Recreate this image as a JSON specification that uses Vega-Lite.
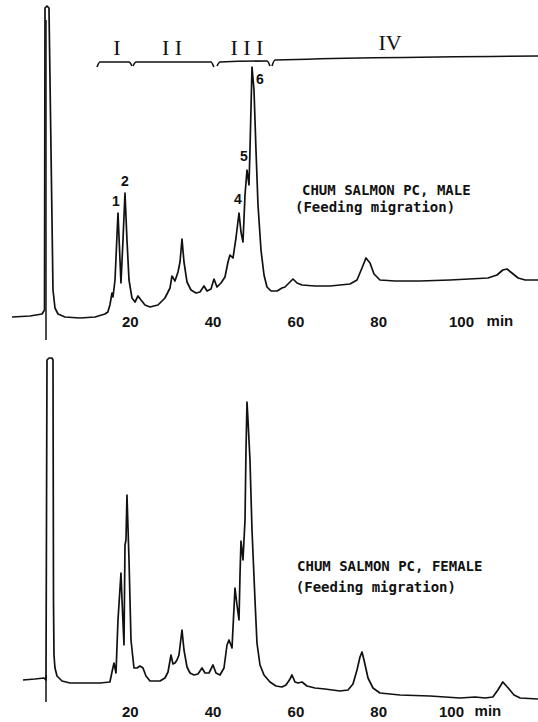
{
  "$schema": "https://vega.github.io/schema/vega-lite/v6.json",
  "background": "white",
  "padding": 0,
  "spacing": 65,
  "bounds": "flush",
  "config": {"view": {"stroke": null}},
  "datasets": {
    "top": [
      {"t": -8.45, "r": 3}, {"t": -4.1, "r": 4}, {"t": -1.2, "r": 6}, {"t": -0.6, "r": 10},
      {"t": -0.48, "r": 312}, {"t": 0, "r": 314}, {"t": 0.48, "r": 312}, {"t": 0.97, "r": 170},
      {"t": 1.45, "r": 30}, {"t": 1.93, "r": 12}, {"t": 2.66, "r": 6}, {"t": 4.35, "r": 3},
      {"t": 7.97, "r": 2}, {"t": 11.6, "r": 3}, {"t": 14.0, "r": 6}, {"t": 14.7, "r": 8},
      {"t": 15.2, "r": 15}, {"t": 15.7, "r": 27}, {"t": 15.94, "r": 23}, {"t": 16.43, "r": 40},
      {"t": 17.15, "r": 107}, {"t": 17.63, "r": 60}, {"t": 17.87, "r": 37}, {"t": 18.36, "r": 80},
      {"t": 18.84, "r": 127}, {"t": 19.32, "r": 80}, {"t": 19.81, "r": 40}, {"t": 20.53, "r": 22},
      {"t": 21.26, "r": 18}, {"t": 21.98, "r": 24}, {"t": 22.71, "r": 20}, {"t": 23.67, "r": 15},
      {"t": 24.88, "r": 13}, {"t": 26.81, "r": 15}, {"t": 28.5, "r": 22}, {"t": 29.71, "r": 32},
      {"t": 30.19, "r": 44}, {"t": 30.92, "r": 39}, {"t": 31.64, "r": 48}, {"t": 32.13, "r": 58},
      {"t": 32.61, "r": 81}, {"t": 33.09, "r": 58}, {"t": 33.82, "r": 38}, {"t": 34.78, "r": 30},
      {"t": 35.99, "r": 27}, {"t": 36.96, "r": 28}, {"t": 37.92, "r": 34}, {"t": 38.65, "r": 29},
      {"t": 39.61, "r": 31}, {"t": 40.34, "r": 41}, {"t": 41.06, "r": 33}, {"t": 42.03, "r": 37},
      {"t": 42.99, "r": 43}, {"t": 43.72, "r": 58}, {"t": 44.2, "r": 65}, {"t": 44.93, "r": 62},
      {"t": 45.65, "r": 82}, {"t": 46.38, "r": 107}, {"t": 46.86, "r": 88}, {"t": 47.34, "r": 78},
      {"t": 47.83, "r": 125}, {"t": 48.31, "r": 150}, {"t": 48.79, "r": 135}, {"t": 49.03, "r": 170},
      {"t": 49.52, "r": 253}, {"t": 50.0, "r": 230}, {"t": 50.48, "r": 170}, {"t": 50.97, "r": 115},
      {"t": 51.69, "r": 70}, {"t": 52.42, "r": 45}, {"t": 53.14, "r": 33}, {"t": 54.11, "r": 29},
      {"t": 55.56, "r": 29}, {"t": 56.76, "r": 32}, {"t": 57.49, "r": 33}, {"t": 58.45, "r": 37},
      {"t": 59.42, "r": 41}, {"t": 60.39, "r": 37}, {"t": 61.59, "r": 35}, {"t": 64.73, "r": 34},
      {"t": 68.36, "r": 34}, {"t": 73.19, "r": 36}, {"t": 74.88, "r": 40}, {"t": 76.09, "r": 52},
      {"t": 77.05, "r": 62}, {"t": 78.02, "r": 57}, {"t": 78.99, "r": 46}, {"t": 80.43, "r": 40},
      {"t": 84.06, "r": 39}, {"t": 90.1, "r": 39}, {"t": 97.34, "r": 40}, {"t": 106.5, "r": 42},
      {"t": 108.7, "r": 45}, {"t": 110.1, "r": 50}, {"t": 111.1, "r": 51}, {"t": 112.3, "r": 47},
      {"t": 113.8, "r": 42}, {"t": 115.5, "r": 40}, {"t": 118.6, "r": 40}
    ],
    "bottom": [
      {"t": -5.8, "r": 25}, {"t": -2.9, "r": 26}, {"t": -0.72, "r": 27}, {"t": -0.24, "r": 25},
      {"t": 0, "r": 345}, {"t": 0.5, "r": 347}, {"t": 1.2, "r": 347}, {"t": 1.45, "r": 345},
      {"t": 1.57, "r": 105}, {"t": 1.69, "r": 50}, {"t": 1.93, "r": 37}, {"t": 2.42, "r": 29},
      {"t": 3.62, "r": 24}, {"t": 5.56, "r": 22}, {"t": 12.8, "r": 22}, {"t": 15.2, "r": 23},
      {"t": 15.7, "r": 33}, {"t": 16.18, "r": 42}, {"t": 16.67, "r": 32}, {"t": 17.15, "r": 85},
      {"t": 17.87, "r": 132}, {"t": 18.12, "r": 105}, {"t": 18.6, "r": 60}, {"t": 18.84, "r": 160},
      {"t": 19.08, "r": 165}, {"t": 19.32, "r": 210}, {"t": 19.81, "r": 145}, {"t": 20.29, "r": 65},
      {"t": 21.01, "r": 37}, {"t": 21.74, "r": 37}, {"t": 22.46, "r": 39}, {"t": 23.19, "r": 37},
      {"t": 23.91, "r": 29}, {"t": 24.88, "r": 24}, {"t": 27.29, "r": 24}, {"t": 28.5, "r": 27},
      {"t": 29.23, "r": 33}, {"t": 29.95, "r": 50}, {"t": 30.43, "r": 41}, {"t": 30.92, "r": 42},
      {"t": 31.4, "r": 45}, {"t": 31.88, "r": 50}, {"t": 32.61, "r": 75}, {"t": 33.09, "r": 55},
      {"t": 33.82, "r": 38}, {"t": 34.54, "r": 32}, {"t": 35.51, "r": 30}, {"t": 36.47, "r": 31},
      {"t": 37.44, "r": 37}, {"t": 38.16, "r": 32}, {"t": 39.13, "r": 32}, {"t": 40.1, "r": 40},
      {"t": 40.82, "r": 32}, {"t": 41.79, "r": 30}, {"t": 42.75, "r": 37}, {"t": 43.48, "r": 60},
      {"t": 43.96, "r": 65}, {"t": 44.69, "r": 57}, {"t": 45.41, "r": 117}, {"t": 45.89, "r": 100},
      {"t": 46.38, "r": 85}, {"t": 46.62, "r": 130}, {"t": 46.86, "r": 164}, {"t": 47.34, "r": 145},
      {"t": 47.83, "r": 185}, {"t": 48.07, "r": 255}, {"t": 48.31, "r": 303}, {"t": 48.55, "r": 285},
      {"t": 49.03, "r": 245}, {"t": 49.52, "r": 175}, {"t": 50.24, "r": 105}, {"t": 50.72, "r": 62},
      {"t": 51.45, "r": 40}, {"t": 52.42, "r": 30}, {"t": 53.86, "r": 23}, {"t": 55.31, "r": 19},
      {"t": 56.76, "r": 18}, {"t": 57.73, "r": 20}, {"t": 58.7, "r": 26}, {"t": 59.18, "r": 30},
      {"t": 59.9, "r": 23}, {"t": 60.63, "r": 22}, {"t": 61.59, "r": 23}, {"t": 62.8, "r": 19},
      {"t": 64.73, "r": 17}, {"t": 67.15, "r": 16}, {"t": 70.77, "r": 14}, {"t": 72.71, "r": 15},
      {"t": 73.91, "r": 21}, {"t": 74.88, "r": 35}, {"t": 75.6, "r": 48}, {"t": 76.09, "r": 53},
      {"t": 76.57, "r": 45}, {"t": 77.54, "r": 27}, {"t": 78.74, "r": 17}, {"t": 80.43, "r": 12},
      {"t": 85.27, "r": 10}, {"t": 92.51, "r": 9}, {"t": 99.76, "r": 7}, {"t": 103.4, "r": 8},
      {"t": 105.8, "r": 7}, {"t": 107.7, "r": 8}, {"t": 108.9, "r": 15}, {"t": 110.1, "r": 23},
      {"t": 111.4, "r": 17}, {"t": 112.8, "r": 10}, {"t": 114.3, "r": 7}, {"t": 118.6, "r": 6}
    ],
    "brackets": [
      {"g": "I", "t": 12.08, "r": 253}, {"g": "I", "t": 12.8, "r": 258}, {"g": "I", "t": 19.81, "r": 258}, {"g": "I", "t": 20.53, "r": 254},
      {"g": "II", "t": 20.77, "r": 254}, {"g": "II", "t": 21.5, "r": 258}, {"g": "II", "t": 39.6, "r": 258}, {"g": "II", "t": 40.3, "r": 253},
      {"g": "III", "t": 41.06, "r": 254}, {"g": "III", "t": 41.79, "r": 258}, {"g": "III", "t": 53.14, "r": 259}, {"g": "III", "t": 53.86, "r": 254},
      {"g": "IV", "t": 54.35, "r": 254}, {"g": "IV", "t": 55.07, "r": 260}, {"g": "IV", "t": 118.6, "r": 264}
    ],
    "roman": [
      {"label": "I", "t": 16.9, "r": 272},
      {"label": "I I", "t": 30.19, "r": 272},
      {"label": "I I I", "t": 48.3, "r": 272},
      {"label": "IV", "t": 82.85, "r": 277}
    ],
    "peaks": [
      {"label": "1", "t": 16.67, "r": 118},
      {"label": "2", "t": 18.84, "r": 138},
      {"label": "4", "t": 46.14, "r": 120},
      {"label": "5", "t": 47.58, "r": 163},
      {"label": "6", "t": 51.45, "r": 240}
    ],
    "topTitle": [
      {"label": "CHUM SALMON PC, MALE", "t": 61.6, "r": 129},
      {"label": "(Feeding migration)", "t": 59.9, "r": 112}
    ],
    "bottomTitle": [
      {"label": "CHUM SALMON PC, FEMALE", "t": 60.4, "r": 138},
      {"label": "(Feeding migration)", "t": 60.1, "r": 117}
    ],
    "topMarker": [{"t": -0.24, "r": -20, "r2": 300}],
    "bottomMarker": [{"t": -0.24, "r": 3, "r2": 30}],
    "topUnit": [{"label": "min", "t": 109.4, "r": -1}],
    "bottomUnit": [{"label": "min", "t": 106.5, "r": -6}]
  },
  "vconcat": [
    {
      "width": 538,
      "height": 320,
      "encoding": {
        "x": {
          "field": "t", "type": "quantitative",
          "scale": {"domain": [-11.35, 118.6], "nice": false, "zero": false},
          "axis": {
            "values": [20, 40, 60, 80, 100], "title": null, "domain": false, "ticks": false, "grid": false,
            "labelFont": "Liberation Sans", "labelFontWeight": "bold", "labelFontSize": 15, "labelColor": "#111",
            "labelBaseline": "middle", "labelPadding": 1
          }
        },
        "y": {
          "field": "r", "type": "quantitative",
          "scale": {"domain": [0, 320], "nice": false, "zero": false},
          "axis": null
        }
      },
      "layer": [
        {"data": {"name": "top"}, "mark": {"type": "line", "color": "#111", "strokeWidth": 1.7, "strokeJoin": "round"}},
        {"data": {"name": "topMarker"}, "mark": {"type": "rule", "color": "#111", "strokeWidth": 1.5}, "encoding": {"y2": {"field": "r2"}}},
        {"data": {"name": "brackets"}, "mark": {"type": "line", "color": "#111", "strokeWidth": 1.6, "interpolate": "monotone"}, "encoding": {"detail": {"field": "g"}}},
        {"data": {"name": "roman"}, "mark": {"type": "text", "font": "Liberation Serif", "fontSize": 22, "color": "#111", "baseline": "middle"}, "encoding": {"text": {"field": "label"}}},
        {"data": {"name": "peaks"}, "mark": {"type": "text", "font": "Liberation Sans", "fontWeight": "bold", "fontSize": 14, "color": "#111", "baseline": "middle"}, "encoding": {"text": {"field": "label"}}},
        {"data": {"name": "topTitle"}, "mark": {"type": "text", "font": "DejaVu Sans Mono", "fontWeight": "bold", "fontSize": 14, "color": "#111", "align": "left", "baseline": "middle"}, "encoding": {"text": {"field": "label"}}},
        {"data": {"name": "topUnit"}, "mark": {"type": "text", "font": "Liberation Sans", "fontWeight": "bold", "fontSize": 15, "color": "#111", "baseline": "middle"}, "encoding": {"text": {"field": "label"}}}
      ]
    },
    {
      "width": 538,
      "height": 320,
      "encoding": {
        "x": {
          "field": "t", "type": "quantitative",
          "scale": {"domain": [-11.35, 118.6], "nice": false, "zero": false},
          "axis": {
            "values": [20, 40, 60, 80, 100], "title": null, "domain": false, "ticks": false, "grid": false,
            "labelFont": "Liberation Sans", "labelFontWeight": "bold", "labelFontSize": 15, "labelColor": "#111",
            "labelBaseline": "middle", "labelPadding": 6,
            "labelOffset": {"condition": {"test": "datum.value === 100", "value": -10}, "value": 0}
          }
        },
        "y": {
          "field": "r", "type": "quantitative",
          "scale": {"domain": [0, 320], "nice": false, "zero": false},
          "axis": null
        }
      },
      "layer": [
        {"data": {"name": "bottom"}, "mark": {"type": "line", "color": "#111", "strokeWidth": 1.7, "strokeJoin": "round"}},
        {"data": {"name": "bottomMarker"}, "mark": {"type": "rule", "color": "#111", "strokeWidth": 1.5}, "encoding": {"y2": {"field": "r2"}}},
        {"data": {"name": "bottomTitle"}, "mark": {"type": "text", "font": "DejaVu Sans Mono", "fontWeight": "bold", "fontSize": 14, "color": "#111", "align": "left", "baseline": "middle"}, "encoding": {"text": {"field": "label"}}},
        {"data": {"name": "bottomUnit"}, "mark": {"type": "text", "font": "Liberation Sans", "fontWeight": "bold", "fontSize": 15, "color": "#111", "baseline": "middle"}, "encoding": {"text": {"field": "label"}}}
      ]
    }
  ]
}
